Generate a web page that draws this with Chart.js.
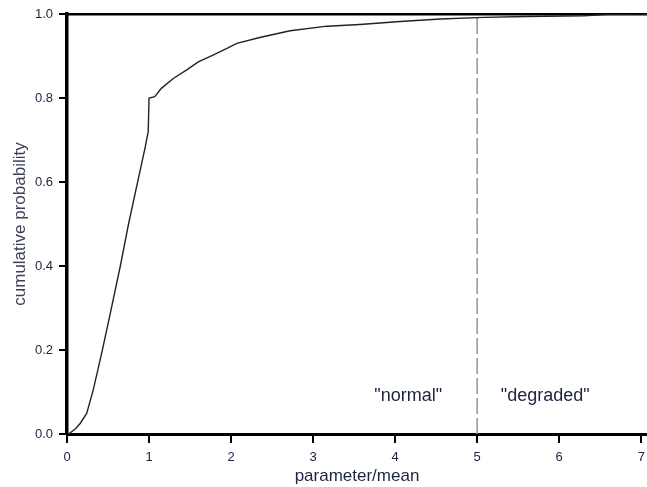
<!DOCTYPE html>
<html>
<head>
<meta charset="utf-8">
<script src="https://cdn.jsdelivr.net/npm/chart.js@4/dist/chart.umd.min.js"></script>
<style>
  html, body { margin: 0; padding: 0; background: #fff; }
  #wrap { width: 647px; height: 487px; }
</style>
</head>
<body>
<div id="wrap"><canvas id="cdfChart"></canvas></div>
<script>
// cumulative distribution
const cdfX = [0.02, 0.10, 0.16, 0.24, 0.32, 0.42, 0.52, 0.65, 0.75, 0.85, 0.95, 0.99, 1.00, 1.07, 1.15, 1.30, 1.46, 1.60, 1.78, 1.95, 2.07, 2.35, 2.72, 3.17, 3.57, 4.06, 4.55, 5.08, 5.60, 6.30, 6.60, 7.07];
const cdfY = [0.00, 0.012, 0.025, 0.049, 0.105, 0.19, 0.28, 0.40, 0.50, 0.59, 0.68, 0.72, 0.80, 0.803, 0.823, 0.847, 0.867, 0.886, 0.902, 0.918, 0.930, 0.944, 0.960, 0.971, 0.975, 0.982, 0.988, 0.992, 0.994, 0.996, 0.999, 1.00];

// threshold between regimes
const thresholdX = [5, 5];
const thresholdY = [0, 1];

// region labels
const regionLabels = ['"normal"', '"degraded"'];
const regionX = [4.16, 5.83];
const regionY = [0.09, 0.09];

const xTicks = [0, 1, 2, 3, 4, 5, 6, 7];
const yTicks = [0, 0.2, 0.4, 0.6, 0.8, 1.0];

const FONT = '"Liberation Sans", Arial, sans-serif';
const tickColor = '#1c2340';

// draws the "normal" / "degraded" text at data positions
const regionText = {
    id: 'regionText',
    afterDatasetsDraw(chart) {
        const { ctx, scales } = chart;
        ctx.save();
        ctx.font = '18px ' + FONT;
        ctx.fillStyle = '#1c2340';
        ctx.textAlign = 'center';
        ctx.textBaseline = 'middle';
        regionLabels.forEach((txt, i) => {
            ctx.fillText(txt, scales.x.getPixelForValue(regionX[i]), scales.y.getPixelForValue(regionY[i]));
        });
        ctx.restore();
    }
};

const ctx = document.getElementById('cdfChart').getContext('2d');
new Chart(ctx, {
    type: 'scatter',
    data: {
        datasets: [
            {
                data: cdfX.map((x, i) => ({ x: x, y: cdfY[i] })),
                showLine: true,
                borderColor: '#222',
                borderWidth: 1.4,
                pointRadius: 0,
                tension: 0
            },
            {
                data: thresholdX.map((x, i) => ({ x: x, y: thresholdY[i] })),
                showLine: true,
                borderColor: '#999',
                borderWidth: 1.6,
                borderDash: [16, 4],
                pointRadius: 0
            }
        ]
    },
    options: {
        responsive: true,
        maintainAspectRatio: false,
        animation: false,
        layout: { padding: { top: 14, left: 0, right: 0, bottom: 0 } },
        plugins: {
            legend: { display: false },
            tooltip: { enabled: false }
        },
        scales: {
            x: {
                type: 'linear',
                min: 0,
                max: 7.07,
                afterFit: (s) => { s.height = 53; s.paddingLeft = 0; s.paddingRight = 0; },
                afterBuildTicks: (s) => { s.ticks = xTicks.map(v => ({ value: v })); },
                ticks: {
                    color: tickColor,
                    font: { family: FONT, size: 13 },
                    padding: 7,
                    maxRotation: 0,
                    callback: (v) => String(v)
                },
                grid: { display: true, drawOnChartArea: false, drawTicks: true, tickLength: 9, color: '#000', lineWidth: 2 },
                border: { display: true, color: '#000', width: 3 },
                title: {
                    display: true,
                    text: 'parameter/mean',
                    color: '#1c2340',
                    font: { family: FONT, size: 17 },
                    padding: { top: 0, bottom: 0 }
                }
            },
            x2: {
                type: 'linear',
                position: 'top',
                min: 0,
                max: 7.07,
                afterFit: (s) => { s.paddingLeft = 0; s.paddingRight = 0; },
                ticks: { display: false },
                grid: { display: false, drawTicks: false },
                border: { display: true, color: '#000', width: 2.5 }
            },
            y: {
                min: 0,
                max: 1,
                afterFit: (s) => { s.width = 67; },
                afterBuildTicks: (s) => { s.ticks = yTicks.map(v => ({ value: v })); },
                ticks: {
                    color: tickColor,
                    font: { family: FONT, size: 13 },
                    padding: 6,
                    callback: (v) => Number(v).toFixed(1)
                },
                grid: { display: true, drawOnChartArea: false, drawTicks: true, tickLength: 8, color: '#000', lineWidth: 2 },
                border: { display: true, color: '#000', width: 3.5 },
                title: {
                    display: true,
                    text: 'cumulative probability',
                    color: '#3a3f55',
                    font: { family: FONT, size: 17 },
                    padding: { top: 10, bottom: 0 }
                }
            }
        }
    },
    plugins: [regionText]
});
</script>
</body>
</html>
